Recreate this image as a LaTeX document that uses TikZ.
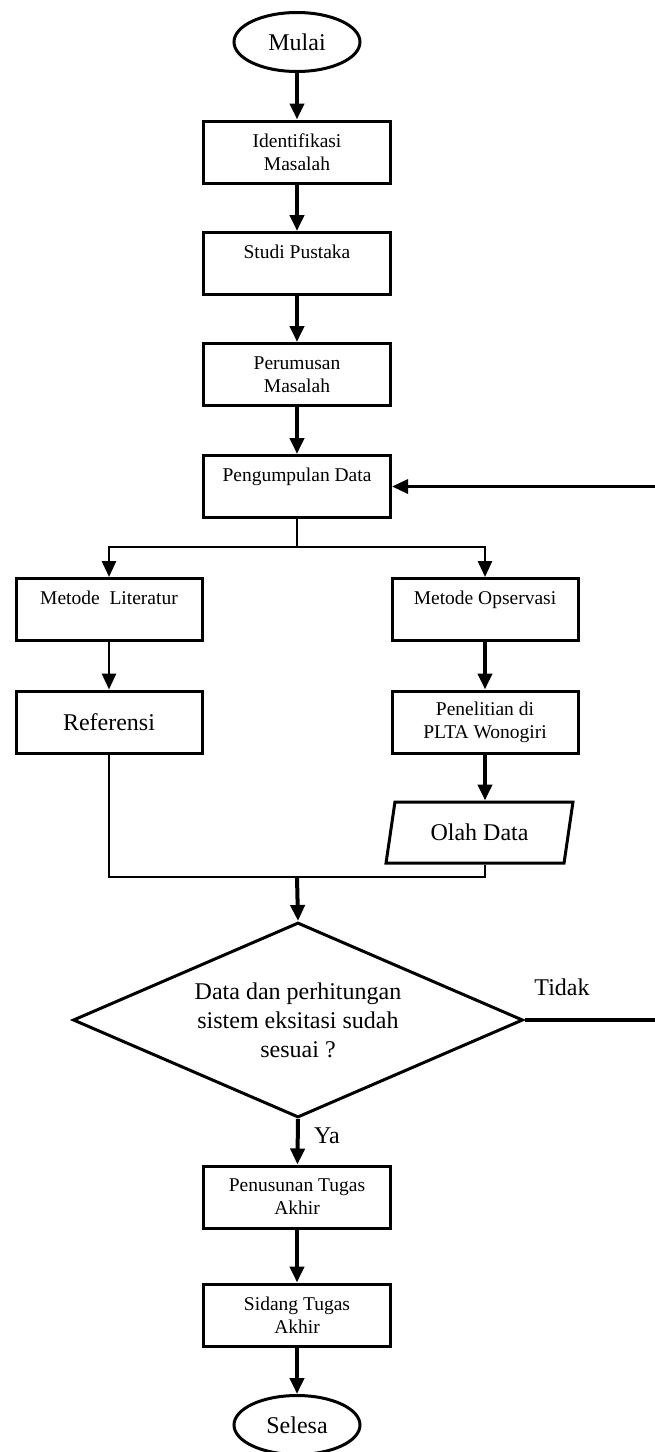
\documentclass[tikz,border=0pt]{standalone}
\usepackage{fontspec}
\setmainfont{Liberation Serif}
\usetikzlibrary{arrows.meta, positioning, shapes.geometric, calc}

\begin{document}
\begin{tikzpicture}[x=1pt, y=-1pt,
    teks/.style={font=\fontsize{19.5}{23}\selectfont},
    teksbesar/.style={font=\fontsize{24}{29}\selectfont},
    kotak/.style={draw, line width=3pt, rectangle, minimum width=187pt,
                  minimum height=62pt, inner sep=0pt, align=center, teks},
    oval/.style={draw, line width=3pt, ellipse, minimum width=126pt,
                 minimum height=59pt, inner sep=0pt, teksbesar},
    keputusan/.style={draw, line width=3pt, diamond, minimum width=450pt,
                      minimum height=195pt, aspect=2.31, inner sep=0pt,
                      align=center, teksbesar},
    data/.style={draw, line width=3pt, trapezium, trapezium stretches=true,
                 trapezium left angle=73, trapezium right angle=107,
                 minimum width=187pt, minimum height=61pt, inner sep=0pt,
                 teksbesar},
    panah/.style={line width=4pt, -{Triangle[width=14pt, length=16pt]}},
    garis/.style={line width=2.8pt}]
  \useasboundingbox (0,0) rectangle (654,1452);

  % alur utama
  \node[oval] (mulai) at (297, 42) {Mulai};
  \node[kotak] (identifikasi) at (297, 152) {Identifikasi\\Masalah};
  \node[kotak] (studi) at (297, 263.5) {Studi Pustaka\\\mbox{}};
  \node[kotak] (perumusan) at (297, 374.5) {Perumusan\\Masalah};
  \node[kotak] (kumpul) at (297, 486.5) {Pengumpulan Data\\\mbox{}};

  % dua metode
  \node[kotak, minimum width=186pt] (literatur) at (109, 609.5)
    {Metode~ Literatur\\\mbox{}};
  \node[kotak, minimum width=186pt] (opservasi) at (485, 609.5)
    {Metode Opservasi\\\mbox{}};
  \node[kotak, minimum width=186pt, teksbesar] (referensi) at (109, 722)
    {Referensi};
  \node[kotak, minimum width=186pt] (penelitian) at (485, 722)
    {Penelitian di\\PLTA Wonogiri};
  \node[data] (olah) at (479.5, 832.5) {Olah Data};

  % keputusan
  \node[keputusan] (cek) at (298, 1020)
    {Data dan perhitungan\\sistem eksitasi sudah\\sesuai ?};
  \node[teksbesar] (tidak) at (562, 987) {Tidak};
  \node[teksbesar] (ya) at (327, 1136) {Ya};

  \node[kotak] (penyusunan) at (297, 1197) {Penusunan Tugas\\Akhir};
  \node[kotak] (sidang) at (297, 1315) {Sidang Tugas\\Akhir};
  \node[oval] (selesa) at (297, 1425) {Selesa};

  \coordinate (cabang) at (297, 547);
  \coordinate (gabung) at (297, 877);

  % panah
  \draw[panah] (mulai) -- (identifikasi);
  \draw[panah] (identifikasi) -- (studi);
  \draw[panah] (studi) -- (perumusan);
  \draw[panah] (perumusan) -- (kumpul);
  \draw[garis] (kumpul.south) -- (cabang);
  \draw[garis, -{Triangle[width=14pt, length=16pt]}] (cabang) -| (literatur.north);
  \draw[garis, -{Triangle[width=14pt, length=16pt]}] (cabang) -| (opservasi.north);
  \draw[garis, -{Triangle[width=14pt, length=16pt]}] (literatur) -- (referensi);
  \draw[panah] (opservasi) -- (penelitian);
  \draw[panah] (penelitian.south) -- (penelitian.south |- olah.north);
  \draw[garis] (referensi.south) -- (referensi.south |- gabung)
    -- (penelitian.south |- gabung) -- (penelitian.south |- olah.south);
  \draw[panah] (gabung) -- (cek.north);
  \draw[line width=3.2pt, -{Triangle[width=14pt, length=16pt]}]
    (cek.east) -- ++(141, 0) |- (kumpul.east);
  \draw[panah] (cek.south) -- (penyusunan);
  \draw[panah] (penyusunan) -- (sidang);
  \draw[panah] (sidang) -- (selesa);
\end{tikzpicture}
\end{document}
